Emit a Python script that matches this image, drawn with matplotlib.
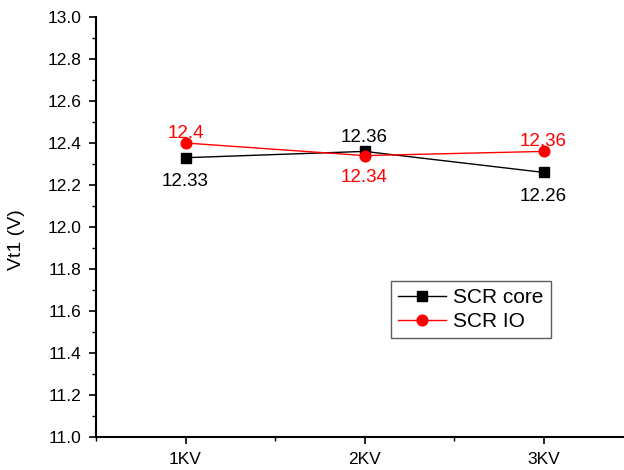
import matplotlib.pyplot as plt
from matplotlib.ticker import MultipleLocator

plt.rcParams['font.family'] = ['Liberation Sans', 'DejaVu Sans']

# data
categories = ['1KV', '2KV', '3KV']
x = [1, 2, 3]
scr_core = [12.33, 12.36, 12.26]
scr_io = [12.4, 12.34, 12.36]

fig = plt.figure(figsize=(6.24, 4.70), dpi=100)
ax = fig.add_axes([96 / 624, 1 - 437 / 470, (633 - 96) / 624, 420 / 470])

ax.plot(x, scr_core, color='black', lw=1, marker='s', ms=6.5, label='SCR core')
ax.plot(x, scr_io, color='red', lw=1, marker='o', ms=7.7, label='SCR IO')

# value labels (offsets in points, up is positive)
core_off = [-17, 10, -17]
io_off = [6.5, -16, 7]
for xi, v, dy in zip(x, scr_core, core_off):
    ax.annotate(f'{v:g}', (xi, v), xytext=(0, dy), textcoords='offset points',
                ha='center', va='center', fontsize=13.5, color='black')
for xi, v, dy in zip(x, scr_io, io_off):
    ax.annotate(f'{v:g}', (xi, v), xytext=(0, dy), textcoords='offset points',
                ha='center', va='center', fontsize=13.5, color='red')

ax.set_xlim(0.5, 3.5)
ax.set_ylim(11.0, 13.0)
ax.set_xticks(x)
ax.set_xticklabels(categories)
ax.xaxis.set_minor_locator(MultipleLocator(0.5))
ax.yaxis.set_major_locator(MultipleLocator(0.2))
ax.yaxis.set_minor_locator(MultipleLocator(0.1))
ax.tick_params(which='major', direction='out', length=5, width=1.2, labelsize=12.5, pad=5.5)
ax.tick_params(which='minor', direction='out', length=3, width=1)
ax.set_ylabel('Vt1 (V)', fontsize=14)
ax.yaxis.set_label_coords(-0.132, 0.47)

ax.spines['top'].set_visible(False)
ax.spines['right'].set_visible(False)
ax.spines['left'].set_linewidth(1.5)
ax.spines['bottom'].set_linewidth(1.5)

leg = ax.legend(loc='upper right', bbox_to_anchor=((551 - 96) / 537, 1 - (281 - 17) / 420),
                fontsize=15, frameon=True, fancybox=False, edgecolor='#333333',
                borderpad=0.35, borderaxespad=0, handlelength=2.3, handletextpad=0.35,
                labelspacing=0.22)
leg.get_frame().set_linewidth(1)

fig.savefig('out.png', dpi=100)
